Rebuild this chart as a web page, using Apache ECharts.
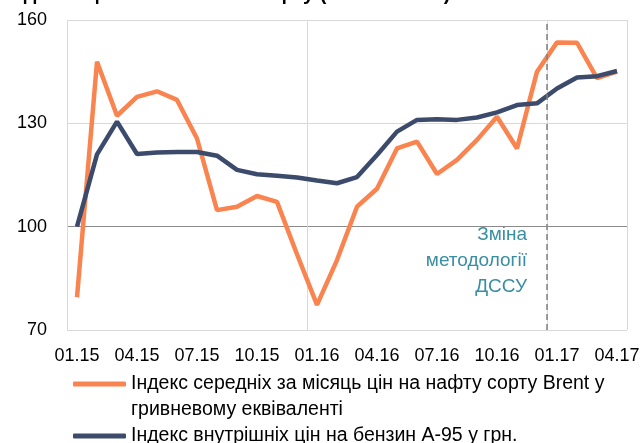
<!DOCTYPE html>
<html>
<head>
<meta charset="utf-8">
<script src="https://cdn.jsdelivr.net/npm/echarts@6/dist/echarts.min.js"></script>
<style>
  html, body { margin: 0; padding: 0; background: #fff; }
  #main { width: 643px; height: 443px; }
</style>
</head>
<body>
<div id="main"></div>
<script>
// months 01.15 .. 04.17
const months = [
  '01.15','02.15','03.15','04.15','05.15','06.15','07.15','08.15','09.15','10.15','11.15','12.15',
  '01.16','02.16','03.16','04.16','05.16','06.16','07.16','08.16','09.16','10.16','11.16','12.16',
  '01.17','02.17','03.17','04.17'
];
const brentUah = [
  79.5, 147.9, 132.2, 137.7, 139.3, 136.8, 125.6, 104.8, 105.8, 108.9, 107.2, 92.0,
  77.3, 90.3, 105.8, 111.0, 122.7, 124.7, 115.3, 119.4, 125.2, 131.9, 122.7, 145.0,
  153.5, 153.4, 143.1, 145.0
];
const petrolA95 = [
  100.0, 121.0, 130.5, 121.1, 121.5, 121.7, 121.7, 120.6, 116.5, 115.2, 114.8, 114.3,
  113.4, 112.6, 114.4, 120.8, 127.6, 131.0, 131.2, 131.0, 131.7, 133.2, 135.3, 135.8,
  140.1, 143.3, 143.7, 145.2
];
const yTicks = [70, 100, 130, 160];
const methodBreak = 24; // boundary before 01.17

const nameBrent = 'Індекс середніх за місяць цін на нафту сорту Brent у';
const nameBrent2 = 'гривневому еквіваленті';
const namePetrol = 'Індекс внутрішніх цін на бензин А-95 у грн.';

const font = '"Liberation Sans", Arial, sans-serif';
const chart = echarts.init(document.getElementById('main'));
chart.setOption({
  animation: false,
  title: {
    text: 'Індекси цін на бензин та нафту (01.2015=100)',
    left: 6,
    top: -16,
    padding: 0,
    textStyle: { fontFamily: font, fontSize: 20, fontWeight: 'bold', color: '#000' }
  },
  grid: { left: 67, right: 16, top: 20, bottom: 113 },
  legend: {
    orient: 'vertical',
    left: 73,
    top: 373,
    height: 90,
    padding: 0,
    icon: 'roundRect',
    itemWidth: 53,
    itemHeight: 5,
    itemGap: 4,
    selectedMode: false,
    data: [nameBrent, nameBrent2, namePetrol],
    textStyle: { fontFamily: font, fontSize: 19.5, color: '#000', lineHeight: 22 }
  },
  xAxis: [
    {
      type: 'category',
      data: months,
      boundaryGap: true,
      axisLine: { show: false },
      axisTick: { show: false },
      axisLabel: {
        interval: 2,
        margin: 17,
        fontFamily: font,
        fontSize: 18,
        color: '#000'
      },
      splitLine: {
        show: true,
        interval: function (index) { return index % 12 === 0; },
        lineStyle: { color: '#d9d9d9', width: 1 }
      }
    },
    {
      type: 'value',
      min: 0,
      max: months.length,
      show: false
    }
  ],
  yAxis: {
    type: 'value',
    min: yTicks[0],
    max: yTicks[yTicks.length - 1],
    interval: 30,
    axisLine: { show: false },
    axisTick: { show: false },
    axisLabel: { margin: 20, fontFamily: font, fontSize: 18, color: '#000' },
    splitLine: {
      lineStyle: { color: ['#d9d9d9', '#8c8c8c', '#d9d9d9', '#d9d9d9'], width: 1 }
    }
  },
  graphic: [{
    type: 'text',
    x: 527,
    y: 222,
    style: {
      text: 'Зміна\nметодології\nДССУ',
      x: 0,
      y: 0,
      align: 'right',
      textAlign: 'right',
      verticalAlign: 'top',
      lineHeight: 26,
      font: '19px "Liberation Sans", Arial, sans-serif',
      fill: '#3a8ea3'
    }
  }],
  series: [
    {
      name: nameBrent,
      type: 'line',
      data: brentUah,
      symbol: 'none',
      color: '#f9844f',
      lineStyle: { width: 4.5, color: '#f9844f' },
      z: 3
    },
    {
      name: nameBrent2,
      type: 'line',
      data: [],
      symbol: 'none',
      color: 'rgba(0,0,0,0)',
      lineStyle: { color: 'rgba(0,0,0,0)' }
    },
    {
      name: namePetrol,
      type: 'line',
      data: petrolA95,
      symbol: 'none',
      color: '#3c4a6b',
      lineStyle: { width: 4.5, color: '#3c4a6b' },
      z: 4
    },
    {
      name: 'break',
      type: 'line',
      xAxisIndex: 1,
      data: [],
      silent: true,
      markLine: {
        silent: true,
        symbol: 'none',
        label: { show: false },
        lineStyle: { color: '#7f7f7f', type: [6, 4], width: 1.5 },
        data: [{ xAxis: methodBreak }]
      }
    }
  ]
});
</script>
</body>
</html>
